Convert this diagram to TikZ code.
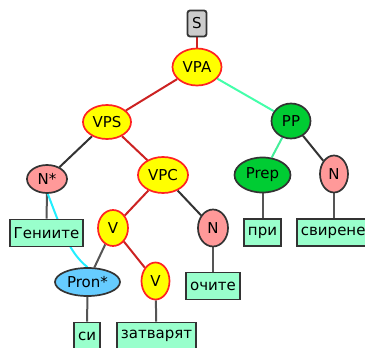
\documentclass[tikz,border=0pt]{standalone}
\usepackage{fontspec}
\setmainfont{DejaVu Sans}
\usetikzlibrary{shapes.geometric,backgrounds}
\definecolor{ylw}{HTML}{FFFF00}
\definecolor{redb}{HTML}{FF2222}
\definecolor{pink}{HTML}{FF9999}
\definecolor{grn}{HTML}{00CC33}
\definecolor{blu}{HTML}{66CCFF}
\definecolor{mint}{HTML}{99FFCC}
\definecolor{edgered}{HTML}{CC2222}
\definecolor{edgeaqua}{HTML}{44FFAA}
\definecolor{edgegrn}{HTML}{44EE99}
\definecolor{edgecyan}{HTML}{22EEFF}
\definecolor{edgegray}{HTML}{555555}
\definecolor{dk}{HTML}{333333}
\tikzset{
  every node/.style={font=\fontsize{15}{17}\selectfont, text=black},
  ell/.style={ellipse, inner sep=0pt, line width=1.7pt},
  yel/.style={ell, fill=ylw, draw=redb},
  pnk/.style={ell, fill=pink, draw=dk},
  gr/.style={ell, fill=grn, draw=dk},
  bl/.style={ell, fill=blu, draw=dk},
  word/.style={rectangle, fill=mint, draw=dk, line width=1.8pt, minimum height=27pt, inner xsep=4pt, inner ysep=0pt},
  sbox/.style={rectangle, rounded corners=2.5pt, fill=black!20, draw=dk, line width=1.8pt, minimum width=19pt, minimum height=26pt, inner sep=0pt},
  e/.style={line width=2pt},
}
\begin{document}
\begin{tikzpicture}[x=1pt,y=-1pt]
\useasboundingbox (0,0) rectangle (365,348);
\node[sbox] (S) at (197,23.5) {S};
\node[yel, minimum width=49pt, minimum height=37pt] (VPA) at (197,67) {VPA};
\node[yel, minimum width=48pt, minimum height=34pt] (VPS) at (107,122) {VPS};
\node[gr, minimum width=39pt, minimum height=35pt] (PP) at (291,121) {PP};
\node[pnk, minimum width=40pt, minimum height=28pt] (Ns) at (47,179) {N*};
\node[yel, minimum width=50pt, minimum height=36pt] (VPC) at (163,175) {VPC};
\node[gr, minimum width=56pt, minimum height=35pt] (Prep) at (262.5,175) {Prep};
\node[pnk, minimum width=28pt, minimum height=37pt] (N1) at (334,174) {N};
\node[yel, minimum width=30pt, minimum height=36pt] (V1) at (113,228) {V};
\node[pnk, minimum width=30pt, minimum height=37pt] (N2) at (213,228) {N};
\node[bl, minimum width=65pt, minimum height=28pt] (Pron) at (87.5,282) {Pron*};
\node[yel, minimum width=28pt, minimum height=37pt] (V2) at (155.5,281) {V};
\node[word] (w1) at (46.5,233) {Гениите};
\node[word] (w2) at (262.5,232.5) {при};
\node[word, anchor=west] (w3) at (296,232.5) {свирене};
\node[word] (w4) at (213,286) {очите};
\node[word] (w5) at (87,336) {си};
\node[word] (w6) at (156.5,336) {затварят};
\begin{scope}[on background layer]
\draw[e, edgered] (S) -- (VPA);
\draw[e, edgered] (VPA) -- (VPS);
\draw[e, edgeaqua] (VPA) -- (PP);
\draw[e, dk] (VPS) -- (Ns);
\draw[e, edgered] (VPS) -- (VPC);
\draw[e, edgegrn] (PP) -- (Prep);
\draw[e, dk] (PP) -- (N1);
\draw[e, edgered] (VPC) -- (V1);
\draw[e, dk] (VPC) -- (N2);
\draw[e, edgegray] (V1) -- (Pron);
\draw[e, edgered] (V1) -- (V2);
\draw[e, edgegray] (Ns) -- (w1);
\draw[e, edgegray] (Prep) -- (w2);
\draw[e, edgegray] (N1) -- (N1 |- w3.north);
\draw[e, edgegray] (N2) -- (w4);
\draw[e, edgegray] (Pron) -- (w5);
\draw[e, edgegray] (V2) -- (w6);
\draw[e, edgecyan] (47,192) .. controls (60,225) and (68,252) .. (Pron.north);
\end{scope}
\end{tikzpicture}
\end{document}
